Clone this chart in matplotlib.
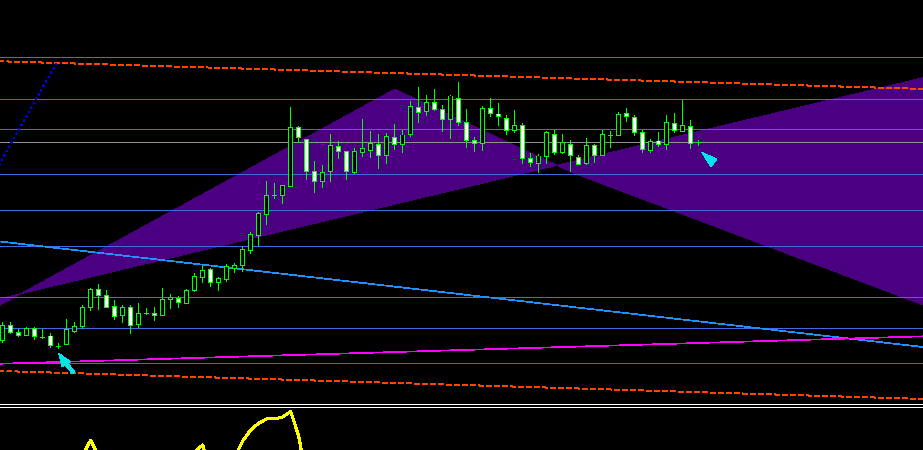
import matplotlib
matplotlib.use("Agg")
import matplotlib.pyplot as plt
import matplotlib.transforms as mtransforms
import numpy as np

# H1 bars, oldest first
opens = [1.10633, 1.10783, 1.10720, 1.10683, 1.10757, 1.10670, 1.10680, 1.10580, 1.10593, 1.10723,
         1.10773, 1.10967, 1.11147, 1.11083, 1.10973, 1.10883, 1.10967, 1.10793, 1.10907, 1.10907,
         1.10883, 1.11047, 1.11060, 1.11003, 1.11133, 1.11263, 1.11347, 1.11213, 1.11247, 1.11360,
         1.11387, 1.11535, 1.11688, 1.11897, 1.12083, 1.12087, 1.12180, 1.12763, 1.12647, 1.12323,
         1.12223, 1.12323, 1.12580, 1.12530, 1.12313, 1.12513, 1.12540, 1.12600, 1.12483, 1.12667,
         1.12593, 1.12697, 1.12967, 1.12923, 1.13017, 1.12947, 1.12847, 1.13057, 1.12820, 1.12637,
         1.12607, 1.12957, 1.12900, 1.12857, 1.12733, 1.12790, 1.12457, 1.12403, 1.12473, 1.12700,
         1.12513, 1.12597, 1.12467, 1.12403, 1.12587, 1.12483, 1.12687, 1.12687, 1.12907, 1.12867,
         1.12717, 1.12533, 1.12630, 1.12597, 1.12807, 1.12723, 1.12773, 1.12617]
highs = [1.10823, 1.10817, 1.10747, 1.10773, 1.10773, 1.10750, 1.10707, 1.10607, 1.10850, 1.10823,
         1.10990, 1.11163, 1.11200, 1.11140, 1.11040, 1.10990, 1.10990, 1.11007, 1.10957, 1.10973,
         1.11157, 1.11100, 1.11080, 1.11153, 1.11307, 1.11380, 1.11357, 1.11273, 1.11400, 1.11413,
         1.11573, 1.11723, 1.11923, 1.12230, 1.12207, 1.12187, 1.12967, 1.12783, 1.12647, 1.12430,
         1.12390, 1.12700, 1.12630, 1.12530, 1.12557, 1.12850, 1.12730, 1.12700, 1.12713, 1.12800,
         1.12740, 1.13033, 1.13167, 1.13090, 1.13147, 1.12990, 1.13090, 1.13217, 1.12950, 1.12667,
         1.12980, 1.13057, 1.13007, 1.12890, 1.12940, 1.12807, 1.12507, 1.12500, 1.12730, 1.12740,
         1.12700, 1.12640, 1.12487, 1.12657, 1.12600, 1.12740, 1.12730, 1.12917, 1.12957, 1.12890,
         1.12740, 1.12647, 1.12723, 1.12890, 1.12913, 1.13040, 1.12840, 1.12640]
lows = [1.10613, 1.10700, 1.10667, 1.10683, 1.10640, 1.10647, 1.10557, 1.10547, 1.10587, 1.10707,
        1.10747, 1.10933, 1.10940, 1.10967, 1.10840, 1.10807, 1.10700, 1.10763, 1.10890, 1.10833,
        1.10880, 1.10953, 1.10963, 1.11000, 1.11123, 1.11213, 1.11173, 1.11133, 1.11223, 1.11307,
        1.11323, 1.11500, 1.11580, 1.11790, 1.12050, 1.12000, 1.12173, 1.12607, 1.12240, 1.12113,
        1.12163, 1.12223, 1.12450, 1.12240, 1.12297, 1.12467, 1.12457, 1.12347, 1.12404, 1.12540,
        1.12513, 1.12667, 1.12813, 1.12883, 1.12930, 1.12723, 1.12650, 1.12783, 1.12563, 1.12523,
        1.12533, 1.12867, 1.12783, 1.12690, 1.12713, 1.12400, 1.12367, 1.12313, 1.12400, 1.12490,
        1.12500, 1.12323, 1.12397, 1.12390, 1.12413, 1.12480, 1.12563, 1.12683, 1.12823, 1.12683,
        1.12507, 1.12507, 1.12573, 1.12540, 1.12713, 1.12723, 1.12547, 1.12580]
closes = [1.10783, 1.10717, 1.10687, 1.10757, 1.10673, 1.10670, 1.10583, 1.10580, 1.10747, 1.10773,
          1.10967, 1.11147, 1.11090, 1.10967, 1.10873, 1.10967, 1.10783, 1.10907, 1.10907, 1.10883,
          1.11047, 1.11063, 1.11013, 1.11140, 1.11277, 1.11340, 1.11217, 1.11257, 1.11373, 1.11387,
          1.11547, 1.11698, 1.11907, 1.12083, 1.12083, 1.12187, 1.12763, 1.12667, 1.12323, 1.12223,
          1.12317, 1.12587, 1.12527, 1.12323, 1.12530, 1.12557, 1.12610, 1.12483, 1.12680, 1.12593,
          1.12690, 1.12980, 1.12917, 1.13017, 1.12947, 1.12847, 1.13080, 1.12813, 1.12633, 1.12607,
          1.12957, 1.12907, 1.12877, 1.12740, 1.12787, 1.12457, 1.12413, 1.12480, 1.12717, 1.12513,
          1.12613, 1.12483, 1.12397, 1.12587, 1.12487, 1.12700, 1.12687, 1.12897, 1.12873, 1.12713,
          1.12547, 1.12623, 1.12597, 1.12817, 1.12740, 1.12787, 1.12607, 1.12617]

# oscillator in the sub window (0..100)
osc = [35, 31, 28, 25, 23, 20, 17, 15, 27, 45,
       68.6, 78.4, 67.3, 58, 50, 53, 46, 50, 49, 47,
       58, 62, 60, 66, 70.8, 75.2, 55.0, 52, 58, 67.3,
       77.8, 85.0, 89.5, 92.2, 92.2, 93.5, 97.1, 81.0, 52.3, 45,
       40, 48, 50, 44, 47, 52, 48, 55, 58, 50,
       56, 60, 62, 58, 52, 45, 54, 60, 57, 50,
       44, 38, 34, 30, 36, 42, 38, 44, 40, 35,
       42, 48, 52, 55, 50, 46, 40, 44, 48, 50,
       46, 42, 47, 52, 55, 50, 45, 44]

# horizontal levels
levels = [1.13470, 1.13050, 1.12750, 1.12300, 1.11940, 1.11580, 1.11070, 1.10760, 1.10410]

# trend lines: (bar, price) anchor pairs
red_top = [(-1, 1.13429), (116, 1.13148)]
red_bottom = [(-1, 1.10332), (116, 1.10048)]
blue_trend = [(-1, 1.11631), (116, 1.10561)]
magenta_trend = [(-1, 1.10401), (116, 1.10679)]
dotted_trend = [(-1, 1.12316), (6.8, 1.13420)]

# shaded triangles: outer edge and shared base line
shade_x = [-1, 49, 71.35, 116]
shade_edge = [1.10961, 1.13148, 1.12310, 1.10963]
shade_base = [(-1, 1.11040), (116, 1.13281)]

# arrow objects (bar, price)
buy_arrow = (7, 1.10507)
sell_arrow = (87.5, 1.12507)

plt.rcParams["lines.antialiased"] = False
plt.rcParams["patch.antialiased"] = False
plt.rcParams["lines.scale_dashes"] = False

W, H = 923, 450
fig = plt.figure(figsize=(W / 100, H / 100), dpi=100, facecolor="black")
ax = fig.add_axes([0, 46 / H, 1, 404 / H])
sub = fig.add_axes([0, (H - 560) / H, 1, 153 / H], sharex=ax)

for a in (ax, sub):
    a.set_facecolor("black")
    a.set_xticks([])
    a.set_yticks([])
    for s in a.spines.values():
        s.set_visible(False)
ax.spines["bottom"].set_visible(True)
ax.spines["bottom"].set_color("white")
ax.spines["bottom"].set_linewidth(0.72)
sub.spines["top"].set_visible(True)
sub.spines["top"].set_color("white")
sub.spines["top"].set_linewidth(0.72)

LW = 0.72  # one pixel
THIN = 0.5  # sloped lines
PX_X = 0.125  # one screen pixel in bars
PX_Y = 0.0001  # one screen pixel in price
x = np.arange(len(opens))
o = np.array(opens)
c = np.array(closes)


def line_at(pts, xs):
    (x0, y0), (x1, y1) = pts
    return y0 + (np.asarray(xs) - x0) * (y1 - y0) / (x1 - x0)


# purple triangles
base = line_at(shade_base, shade_x)
ax.fill_between(shade_x, base, shade_edge, color="#4B0082", lw=0, antialiased=False, zorder=1)

# levels and the bid line
for lv in levels:
    ax.axhline(lv, color="#4169E1", lw=LW, zorder=2)
ax.axhline(closes[-1], color="#8E9196", lw=LW, zorder=2)

# trend lines
xs = np.array([-1, 116])
for pts in (red_top, red_bottom):
    ax.plot(xs, line_at(pts, xs), color="#FF4500", lw=THIN, dashes=(3.4, 2.2), zorder=2.5)
ax.plot(xs, line_at(blue_trend, xs), color="#1E90FF", lw=THIN, zorder=2.5)
ax.plot(xs, line_at(magenta_trend, xs), color="#FF00FF", lw=THIN, zorder=2.5)
dx = [p[0] for p in dotted_trend]
dy = [p[1] for p in dotted_trend]
ax.plot(dx, dy, color="#0000E0", lw=THIN, dashes=(1.0, 2.6), zorder=2.5)

# candles as filled blocks: green wick, green frame, black (bull) or white (bear) core
green = "#00FF00"
body_lo = np.minimum(o, c)
body_h = np.abs(c - o)
ax.bar(x, np.array(highs) - np.array(lows), width=PX_X, bottom=lows, color=green,
       lw=0, antialiased=False, zorder=3)
ax.bar(x, body_h + PX_Y, width=5 * PX_X, bottom=body_lo - PX_Y / 2, color=green,
       lw=0, antialiased=False, zorder=4)
core = body_h > PX_Y
faces = np.where(c > o, "black", "white")[core]
ax.bar(x[core], body_h[core] - PX_Y, width=3 * PX_X, bottom=body_lo[core] + PX_Y / 2,
       color=faces, lw=0, antialiased=False, zorder=5)


def draw_arrow(ax, pos, shape):
    # shape in screen pixels relative to the anchor, y pointing down
    tr = mtransforms.Affine2D().scale(1, -1) + mtransforms.ScaledTranslation(pos[0], pos[1], ax.transData)
    ax.add_patch(plt.Polygon(shape, closed=True, transform=tr, fc="#00E4EE", ec="none", zorder=6))


draw_arrow(ax, buy_arrow, [(0, 0), (11.7, 8.4), (8.9, 9.9), (16.3, 18.4), (13.7, 20.4), (6.2, 11.9), (3.4, 13.4)])
draw_arrow(ax, sell_arrow, [(-1, -1), (14.3, 5.7), (8.2, 13.4)])

ax.set_xlim(-0.3375, 115.0375)
ax.set_ylim(1.10000, 1.14040)

sub.plot(x, osc, color="#FFFF00", lw=1.5, zorder=3)
sub.set_ylim(0, 100)

fig.savefig("out.png", dpi=100, facecolor="black")
